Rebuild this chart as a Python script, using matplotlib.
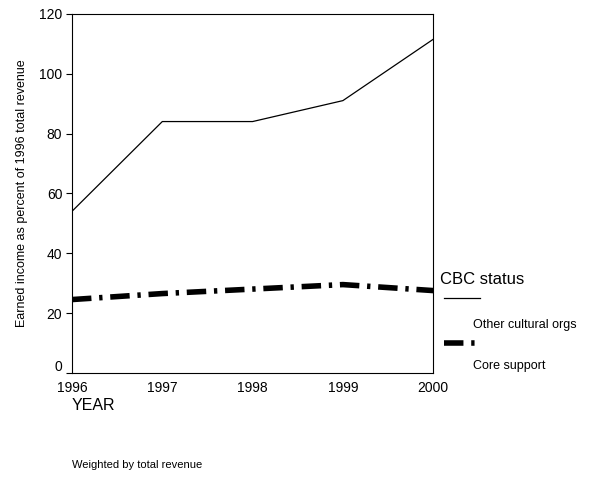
import matplotlib.pyplot as plt
import matplotlib.transforms as mtransforms
from matplotlib.lines import Line2D

plt.rcParams['font.family'] = ['Liberation Sans', 'DejaVu Sans']

years = [1996, 1997, 1998, 1999, 2000]
other_orgs = [54, 84, 84, 91, 111.5]
core_support = [24.5, 26.5, 28, 29.5, 27.5]
series_labels = ['Other cultural orgs', 'Core support']

dashdot = (0, (3.5, 1.4, 0.6, 1.4))

fig = plt.figure(figsize=(6, 4.78), dpi=100)
ax = fig.add_axes([0.12, 0.22, 0.602, 0.751])

ax.plot(years, other_orgs, color='black', linewidth=0.9)
ax.plot(years, core_support, color='black', linewidth=4, linestyle=dashdot)

ax.set_xlim(1996, 2000)
ax.set_ylim(0, 120)
ax.set_xticks(years)
ax.set_yticks(range(0, 121, 20))
ax.tick_params(axis='both', labelsize=10, direction='out', length=4, width=0.8)
ax.tick_params(axis='x', length=0, pad=6)
ax.tick_params(axis='y', pad=3)
# the "0" label sits a little above the axis corner
fig.canvas.draw()
zero_lbl = ax.get_yticklabels()[0]
zero_lbl.set_transform(zero_lbl.get_transform() +
                       mtransforms.ScaledTranslation(0, 5 / 72, fig.dpi_scale_trans))
for s in ax.spines.values():
    s.set_linewidth(0.8)
ax.set_ylabel('Earned income as percent of 1996 total revenue', fontsize=9, labelpad=8)

# legend drawn by hand, same layout as original
fig.text(0.733, 0.415, 'CBC status', fontsize=12, va='center')
fig.add_artist(Line2D([0.74, 0.80], [0.376, 0.376], color='black', linewidth=0.9))
fig.text(0.788, 0.32, series_labels[0], fontsize=9, va='center')
fig.add_artist(Line2D([0.74, 0.80], [0.283, 0.283], color='black', linewidth=4,
                      linestyle=dashdot))
fig.text(0.788, 0.234, series_labels[1], fontsize=9, va='center')

fig.text(0.12, 0.152, 'YEAR', fontsize=11.5, va='center')
fig.text(0.12, 0.028, 'Weighted by total revenue', fontsize=8, va='center')

fig.savefig('out.png', dpi=100)
